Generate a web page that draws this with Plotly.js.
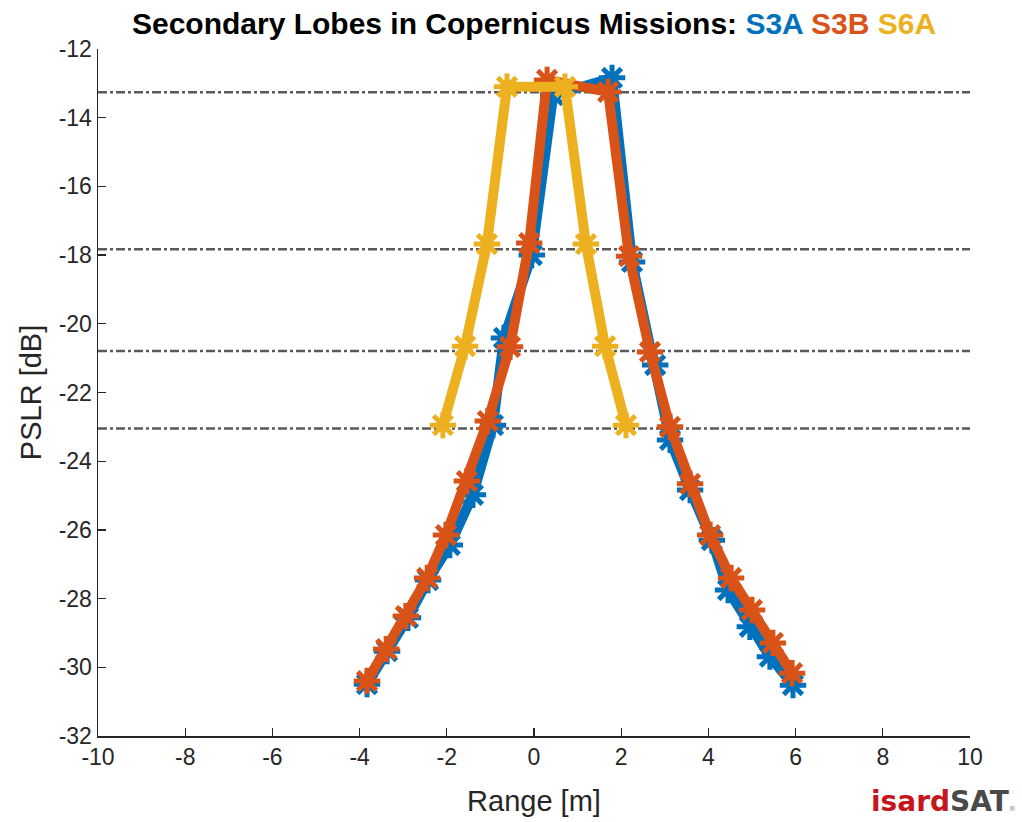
<!DOCTYPE html>
<html>
<head>
<meta charset="utf-8">
<script src="https://cdn.plot.ly/plotly-3.0.1.min.js"></script>
<style>html,body{margin:0;padding:0;background:#fff;}#chart{width:1022px;height:822px;}</style>
</head>
<body>
<div id="chart"></div>
<script>
// Data
const s3aX = [-3.83, -3.37, -2.89, -2.43, -1.93, -1.40, -0.94, -0.69, -0.05, 0.44, 1.79, 2.25, 2.78, 3.12, 3.58, 4.08, 4.45, 4.95, 5.41, 5.94];
const s3aY = [-30.49, -29.53, -28.56, -27.46, -26.44, -24.98, -22.95, -20.41, -18.0, -13.34, -12.84, -18.2, -21.2, -23.38, -24.84, -26.3, -27.75, -28.82, -29.69, -30.52];

const s3bX = [-3.83, -3.39, -2.94, -2.45, -2.02, -1.54, -1.06, -0.55, -0.11, 0.30, 1.70, 2.18, 2.66, 3.12, 3.58, 4.04, 4.52, 5.0, 5.48, 5.92];
const s3bY = [-30.40, -29.47, -28.51, -27.40, -26.15, -24.58, -22.83, -20.67, -17.65, -12.90, -13.25, -18.03, -20.82, -23.0, -24.66, -26.15, -27.40, -28.33, -29.29, -30.17];

const s6aX = [-2.09, -1.58, -1.08, -0.62, 0.71, 1.19, 1.63, 2.11];
const s6aY = [-22.95, -20.65, -17.68, -13.1, -13.1, -17.68, -20.65, -22.95];

const theoryLevels = [-13.26, -17.83, -20.79, -23.05];
const xRange = [-10, 10];
const yRange = [-32, -12];
const xTicks = [-10, -8, -6, -4, -2, 0, 2, 4, 6, 8, 10];
const yTicks = [-32, -30, -28, -26, -24, -22, -20, -18, -16, -14, -12];

const C3A = '#0072BD', C3B = '#D95319', C6A = '#EDB120';

const traces = [];
theoryLevels.forEach(v => {
  traces.push({x: xRange, y: [v, v], mode: 'lines', hoverinfo: 'skip', showlegend: false,
    line: {color: '#5a5a5a', width: 2.5, dash: 'dashdot'}});
});
function series(x, y, c) {
  return {x: x, y: y, mode: 'lines+markers', showlegend: false,
    line: {color: c, width: 10},
    marker: {symbol: 'asterisk-open', size: 22, color: c, line: {color: c, width: 5}}};
}
traces.push(series(s3aX, s3aY, C3A));
traces.push(series(s3bX, s3bY, C3B));
traces.push(series(s6aX, s6aY, C6A));

const font = 'Liberation Sans, Arial, Helvetica, sans-serif';
const layout = {
  width: 1022, height: 822,
  paper_bgcolor: '#fff', plot_bgcolor: '#fff',
  margin: {l: 98, r: 52, t: 49, b: 86, pad: 0},
  font: {family: font, color: '#262626', size: 22},
  title: {
    text: '<b>Secondary Lobes in Copernicus Missions: <span style="color:' + C3A + '">S3A</span> <span style="color:' + C3B + '">S3B</span> <span style="color:' + C6A + '">S6A</span></b>',
    font: {family: font, size: 30, color: '#000'},
    x: 534 / 1022, xanchor: 'center', xref: 'container', y: 1 - 23 / 822, yanchor: 'middle'
  },
  xaxis: {
    range: xRange, tickvals: xTicks, ticktext: xTicks.map(String),
    showgrid: false, zeroline: false, showline: true, linecolor: '#262626', linewidth: 1.5,
    ticks: 'inside', ticklen: 8, tickwidth: 1.3, tickcolor: '#262626',
    tickfont: {family: font, size: 23, color: '#262626'},
    title: {text: 'Range [m]', font: {family: font, size: 29, color: '#262626'}, standoff: 21},
    mirror: false, fixedrange: true
  },
  yaxis: {
    range: yRange, tickvals: yTicks, ticktext: yTicks.map(String),
    showgrid: false, zeroline: false, showline: true, linecolor: '#262626', linewidth: 1.5,
    ticks: 'inside', ticklen: 8, tickwidth: 1.3, tickcolor: '#262626',
    tickfont: {family: font, size: 23, color: '#262626'},
    title: {text: 'PSLR [dB]', font: {family: font, size: 29, color: '#262626'}, standoff: 8},
    mirror: false, fixedrange: true
  },
  annotations: [{
    xref: 'paper', yref: 'paper', x: 1 + 48/872, y: -84/687, xanchor: 'right', yanchor: 'bottom',
    showarrow: false,
    text: '<b><span style="color:#C4161C">isard</span><span style="color:#4a4a4a">SAT</span></b><span style="color:#888;font-size:7px">®</span>',
    font: {family: 'DejaVu Sans, sans-serif', size: 28}
  }]
};
Plotly.newPlot('chart', traces, layout, {displayModeBar: false, staticPlot: true});
</script>
</body>
</html>
